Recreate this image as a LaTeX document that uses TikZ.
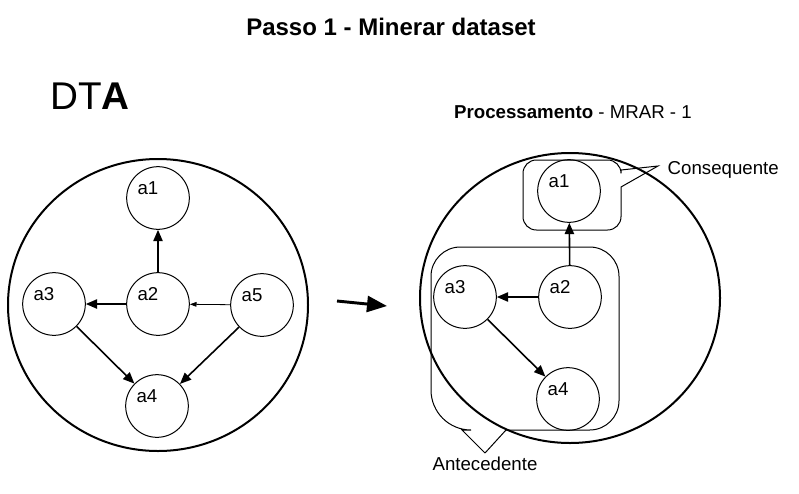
\documentclass[tikz,border=0pt]{standalone}
\usepackage{fontspec}
\setmainfont{Liberation Sans}
\usetikzlibrary{arrows.meta}
\tikzset{
  attr/.style={circle,draw,line width=0.75pt,minimum size=47pt,inner sep=0pt},
  lbl/.style={xshift=-7.5pt,yshift=7.5pt,font=\fontsize{14}{16}\selectfont},
  dep/.style={line width=1.2pt,-{Triangle[length=8.5pt,width=7pt]}},
  weak/.style={line width=0.6pt,-{Triangle[length=5pt,width=3.5pt]}}
}
\begin{document}
\begin{tikzpicture}[x=0.75pt,y=-0.75pt]
   \useasboundingbox (0,0) rectangle (799,493);
   \node[font=\bfseries\fontsize{18}{21}\selectfont] (title) at (391,27) {Passo 1 - Minerar dataset};
   \node[font=\fontsize{29}{33}\selectfont] (dta) at (90,96) {DT\textbf{A}};
   \node[font=\fontsize{14}{16}\selectfont] (proc) at (573,112) {\textbf{Processamento} - MRAR - 1};

   % dataset
   \draw[line width=1.5pt] (158,305) ellipse [x radius=150, y radius=146];
   \node[attr,label={[lbl]center:a1}] (a1) at (158,198) {};
   \node[attr,label={[lbl]center:a2}] (a2) at (158,304) {};
   \node[attr,label={[lbl]center:a3}] (a3) at (54,304) {};
   \node[attr,label={[lbl]center:a5}] (a5) at (262,305) {};
   \node[attr,label={[lbl]center:a4}] (a4) at (157,406) {};
   \draw[dep] (a2) -- (a1);
   \draw[dep] (a2) -- (a3);
   \draw[weak] (a5) -- (a2);
   \draw[dep] (a3) -- (a4);
   \draw[dep] (a5) -- (a4);

   \coordinate (from) at (337,301);
   \coordinate (to) at (387,306);
   \draw[line width=2.2pt,-{Triangle[length=15pt,width=12pt]}] (from) -- (to);

   % regra
   \draw[line width=1.5pt] (570,298) ellipse [x radius=150, y radius=145];
   \node[attr,label={[lbl]center:a1}] (b1) at (569,191) {};
   \node[attr,label={[lbl]center:a2}] (b2) at (570,297) {};
   \node[attr,label={[lbl]center:a3}] (b3) at (465,297) {};
   \node[attr,label={[lbl]center:a4}] (b4) at (568,399) {};
   \draw[dep] (b2) -- (b1);
   \draw[dep] (b2) -- (b3);
   \draw[dep] (b3) -- (b4);

   \draw[line width=0.75pt] (658,166) -- (621,187) [rounded corners=10] -- (621,230) -- (523,230) -- (523,160) -- (621,160) [sharp corners] -- (621,170) -- cycle;
   \draw[line width=0.75pt] (485,453) -- (506,430) [rounded corners=22] -- (619,430) -- (619,247) -- (431,247) [rounded corners=30] -- (431,430) [sharp corners] -- (462,430) -- (485,453);
   \node[font=\fontsize{14}{16}\selectfont,anchor=west] (cons) at (663,170) {Consequente};
   \node[font=\fontsize{14}{16}\selectfont] (ante) at (485,464) {Antecedente};
\end{tikzpicture}
\end{document}
